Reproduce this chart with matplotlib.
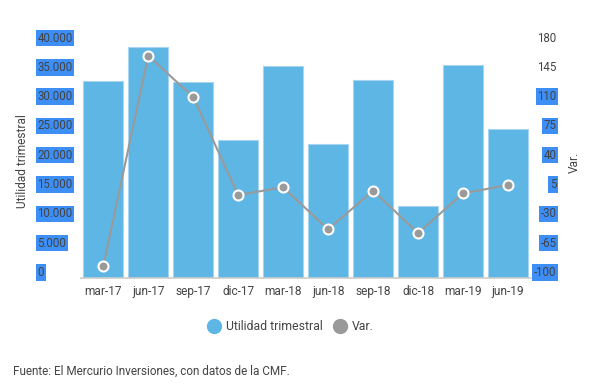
import matplotlib
matplotlib.use("Agg")
import matplotlib.pyplot as plt
import matplotlib.transforms as mtransforms
from matplotlib.lines import Line2D
import numpy as np

plt.rcParams['font.family'] = ['Roboto', 'DejaVu Sans']

categories = ["mar-17", "jun-17", "sep-17", "dic-17", "mar-18", "jun-18",
              "sep-18", "dic-18", "mar-19", "jun-19"]
utilidad = [33450, 39300, 33330, 23400, 36050, 22850, 33620, 12170, 36220, 25330]
var = [-86.3, 164.8, 115.5, -1.5, 7.7, -42.5, 3.6, -46.9, 0.5, 10.4]

left_ticks = [0, 5000, 10000, 15000, 20000, 25000, 30000, 35000, 40000]
left_labels = ["0", "5.000", "10.000", "15.000", "20.000", "25.000", "30.000", "35.000", "40.000"]
right_ticks = [-100, -65, -30, 5, 40, 75, 110, 145, 180]
right_labels = ["-100", "-65", "-30", "5", "40", "75", "110", "145", "180"]
right_highlight = [True, True, True, True, True, True, True, False, False]

bar_color = "#5eb6e4"
line_color = "#9a9a9a"
text_color = "#444444"
hl_color = "#3d8ef5"

W, H = 602, 388
fig = plt.figure(figsize=(W / 100, H / 100), dpi=100)
ax = fig.add_axes([80.8 / W, 1 - 277.5 / H, (530.5 - 80.8) / W, (277.5 - 43) / H])
ax2 = ax.twinx()

x = np.arange(len(categories))
ax.bar(x, utilidad, width=0.89, color=bar_color, edgecolor="#a6d4f1", linewidth=0.8, zorder=2)
ax.set_xlim(-0.5, len(categories) - 0.5)
ax.set_ylim(0, 40000)
ax2.set_ylim(-100, 180)

ax2.plot(x, var, color=line_color, linewidth=1.5, marker="o", markersize=7.2,
         markerfacecolor=line_color, markeredgecolor="white", markeredgewidth=1.5,
         zorder=3, clip_on=False)

for a in (ax, ax2):
    for s in a.spines.values():
        s.set_visible(False)
ax.spines["bottom"].set_visible(True)
ax.spines["bottom"].set_color("#cccccc")
ax.spines["bottom"].set_linewidth(1.2)

ax.set_xticks(x, categories)
ax.tick_params(axis="x", length=0, pad=5.5, labelsize=8.6, labelcolor=text_color)

ax.set_yticks(left_ticks, left_labels)
ax.tick_params(axis="y", length=0, pad=31.3, labelsize=8.3, labelcolor=text_color)
ax2.set_yticks(right_ticks, right_labels)
ax2.tick_params(axis="y", length=0, pad=18.8, labelsize=8.3, labelcolor=text_color)

off = mtransforms.ScaledTranslation(0, 6.5 / 100, fig.dpi_scale_trans)
for lab in ax.get_yticklabels():
    lab.set_horizontalalignment("left")
    lab.set_transform(lab.get_transform() + off)
    lab.set_bbox(dict(boxstyle="square,pad=0.15", facecolor=hl_color, edgecolor="none"))
for lab, hl in zip(ax2.get_yticklabels(), right_highlight):
    lab.set_horizontalalignment("right")
    lab.set_transform(lab.get_transform() + off)
    if hl:
        lab.set_bbox(dict(boxstyle="square,pad=0.15", facecolor=hl_color, edgecolor="none"))

fig.text(22 / W, 1 - 161 / H, "Utilidad trimestral", rotation=90, ha="center", va="center",
         fontsize=8.6, color=text_color)
fig.text(574 / W, 1 - 162 / H, "Var.", rotation=90, ha="center", va="center",
         fontsize=8.6, color=text_color)

handles = [Line2D([], [], linestyle="none", marker="o", markersize=10, color=bar_color),
           Line2D([], [], linestyle="none", marker="o", markersize=10, color=line_color)]
fig.legend(handles, ["Utilidad trimestral", "Var."], loc="center",
           bbox_to_anchor=(291 / W, 1 - 327 / H), ncol=2, frameon=False,
           fontsize=8.8, labelcolor=text_color, handlelength=1.0, handletextpad=0.5,
           columnspacing=0.9)

fig.text(13 / W, 1 - 371 / H, "Fuente: El Mercurio Inversiones, con datos de la CMF.",
         ha="left", va="center", fontsize=8.5, color=text_color)

fig.savefig("out.png", dpi=100)
